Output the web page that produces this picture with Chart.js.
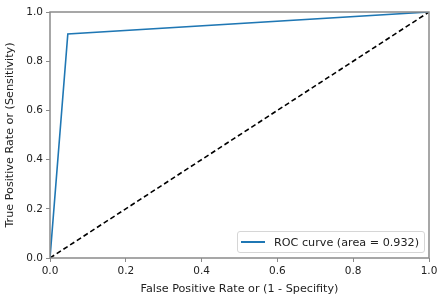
<!DOCTYPE html>
<html>
<head>
<meta charset="utf-8">
<script src="https://cdn.jsdelivr.net/npm/chart.js@4.4.0/dist/chart.umd.min.js"></script>
<style>
  html, body { margin: 0; padding: 0; background: #fff; }
  #wrap { position: relative; width: 445px; height: 300px; }
  #legend {
    position: absolute; left: 237px; top: 231px; width: 186px; height: 20px;
    border: 1px solid #d6d6d6; border-radius: 3px; background: rgba(255,255,255,0.8);
    font: 11.2px "DejaVu Sans", sans-serif; color: #222;
    display: flex; align-items: center; box-sizing: content-box; white-space: nowrap;
  }
  #legend .swatch { width: 24px; height: 2px; margin: 0 9px 0 3px; }
</style>
</head>
<body>
<div id="wrap">
  <canvas id="roc" width="445" height="300"></canvas>
  <div id="legend"></div>
</div>
<script>
const fpr = [0, 0.047, 1];
const tpr = [0, 0.911, 1];
const chanceX = [0, 1];
const chanceY = [0, 1];
const tickValues = [0, 0.2, 0.4, 0.6, 0.8, 1.0];
const rocLabel = "ROC curve (area = 0.932)";

const spineColor = "#8a8a8a";
const tickFont = { family: "DejaVu Sans", size: 10.5 };
const titleFont = { family: "DejaVu Sans", size: 11.2 };

const frame = {
  id: "frame",
  afterDatasetsDraw(chart) {
    const a = chart.chartArea;
    const c = chart.ctx;
    c.save();
    c.strokeStyle = spineColor;
    c.lineWidth = 1.5;
    c.strokeRect(a.left, a.top, a.right - a.left, a.bottom - a.top);
    c.restore();
  }
};

const chart = new Chart(document.getElementById("roc"), {
  type: "scatter",
  data: {
    datasets: [
      {
        label: rocLabel,
        data: fpr.map((x, i) => ({ x: x, y: tpr[i] })),
        showLine: true,
        borderColor: "#1f77b4",
        borderWidth: 1.6,
        pointRadius: 0,
        tension: 0
      },
      {
        label: "chance",
        data: chanceX.map((x, i) => ({ x: x, y: chanceY[i] })),
        showLine: true,
        borderColor: "#000",
        borderWidth: 1.6,
        borderDash: [5, 3],
        pointRadius: 0
      }
    ]
  },
  options: {
    responsive: false,
    animation: false,
    layout: { padding: { top: 12, right: 16, left: 0, bottom: 0 } },
    plugins: { legend: { display: false }, tooltip: { enabled: false } },
    scales: {
      x: {
        type: "linear", min: 0, max: 1,
        afterFit: s => { s.height = 42; },
        afterBuildTicks: s => { s.ticks = tickValues.map(v => ({ value: v })); },
        grid: { drawOnChartArea: false, drawTicks: true, tickLength: 4, color: spineColor },
        border: { display: false },
        ticks: { font: tickFont, color: "#222", padding: 3, maxRotation: 0, callback: v => v.toFixed(1) },
        title: { display: true, text: "False Positive Rate or (1 - Specifity)", font: titleFont, color: "#222", padding: { top: 0 } }
      },
      y: {
        type: "linear", min: 0, max: 1,
        afterFit: s => { s.width = 50; },
        afterBuildTicks: s => { s.ticks = tickValues.map(v => ({ value: v })); },
        grid: { drawOnChartArea: false, drawTicks: true, tickLength: 4, color: spineColor },
        border: { display: false },
        ticks: { font: tickFont, color: "#222", padding: 3, callback: v => v.toFixed(1) },
        title: { display: true, text: "True Positive Rate or (Sensitivity)", font: titleFont, color: "#222", padding: { top: 3, bottom: 0 } }
      }
    }
  },
  plugins: [frame]
});

const legend = document.getElementById("legend");
const ds = chart.data.datasets[0];
legend.innerHTML = '<span class="swatch" style="background:' + ds.borderColor + '"></span><span>' + ds.label + '</span>';
</script>
</body>
</html>
